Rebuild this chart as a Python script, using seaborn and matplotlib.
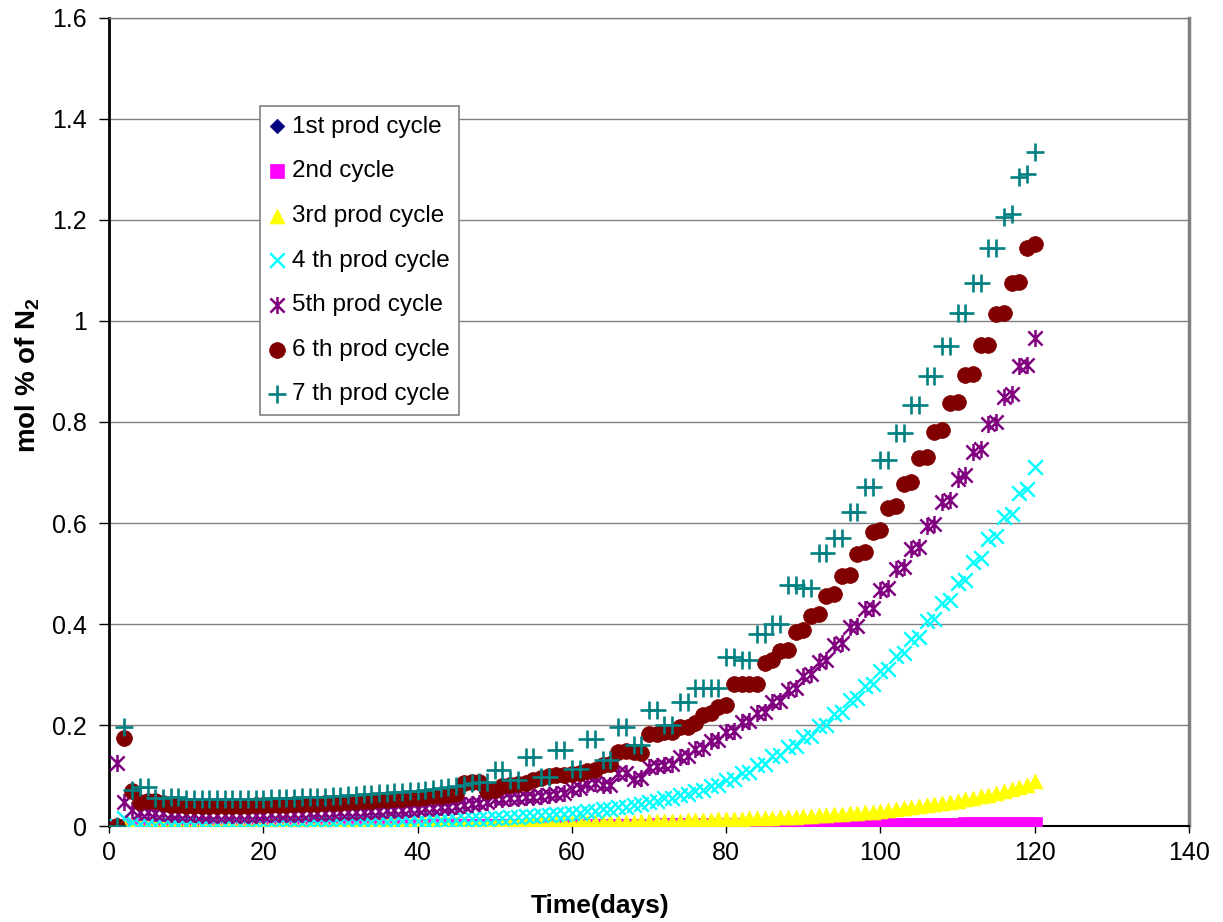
import matplotlib
matplotlib.use("Agg")
import matplotlib.pyplot as plt
from matplotlib.path import Path
import seaborn as sns
import pandas as pd

# N2 content (mol %) per production day, one list per cycle
days = list(range(1, 121))

cycle1 = [
    0.0, 0.0, 0.0, 0.0, 0.0, 0.0, 0.0, 0.0, 0.0, 0.0,
    0.0, 0.0, 0.0, 0.0, 0.0, 0.0, 0.0, 0.0, 0.0, 0.0,
    0.0, 0.0, 0.0, 0.0, 0.0, 0.0, 0.0, 0.0, 0.0, 0.0,
    0.0, 0.0, 0.0, 0.0, 0.0, 0.0, 0.0, 0.0, 0.0, 0.0,
    0.0, 0.0, 0.0, 0.0, 0.0, 0.0, 0.0, 0.0, 0.0, 0.0,
    0.0, 0.0, 0.0, 0.0, 0.0, 0.0, 0.0, 0.0, 0.0, 0.0,
    0.0, 0.0, 0.0, 0.0, 0.0, 0.0, 0.0, 0.0, 0.0, 0.0,
    0.0, 0.0, 0.0, 0.0, 0.0, 0.0, 0.0, 0.0, 0.0, 0.0,
    0.0, 0.0, 0.0, 0.0, 0.0, 0.0, 0.0, 0.0, 0.0, 0.0,
    0.0, 0.0, 0.0, 0.0, 0.0, 0.0, 0.0, 0.0, 0.0, 0.0,
    0.0, 0.0, 0.0, 0.0, 0.0, 0.0, 0.0, 0.0, 0.0, 0.0,
    0.0, 0.0, 0.0, 0.0, 0.0, 0.0, 0.0, 0.0, 0.0, 0.0,
]
cycle2 = [
    0.0, 0.0, 0.0, 0.0, 0.0, 0.0, 0.0, 0.0, 0.0, 0.0,
    0.0, 0.0, 0.0, 0.0, 0.0, 0.0, 0.0, 0.0, 0.0, 0.0,
    0.0, 0.0, 0.0, 0.0, 0.0, 0.0, 0.0, 0.0, 0.0, 0.0,
    0.0, 0.0, 0.0, 0.0, 0.0, 0.0, 0.0, 0.0, 0.0, 0.0,
    0.0, 0.0, 0.0, 0.0, 0.0, 0.0, 0.0, 0.0, 0.0, 0.0,
    0.0005, 0.0005, 0.0005, 0.0005, 0.0005, 0.0005, 0.0005, 0.0005, 0.0005, 0.0005,
    0.001, 0.001, 0.001, 0.001, 0.001, 0.001, 0.001, 0.001, 0.001, 0.001,
    0.0012, 0.0012, 0.0012, 0.0012, 0.0015, 0.0015, 0.0015, 0.0015, 0.0015, 0.0015,
    0.0018, 0.0018, 0.0018, 0.0018, 0.002, 0.002, 0.002, 0.002, 0.002, 0.002,
    0.0022, 0.0022, 0.0022, 0.0022, 0.0024, 0.0024, 0.0024, 0.0024, 0.0025, 0.0025,
    0.0026, 0.0026, 0.0027, 0.0027, 0.0028, 0.0028, 0.0029, 0.0029, 0.003, 0.003,
    0.0031, 0.0031, 0.0032, 0.0032, 0.0033, 0.0033, 0.0034, 0.0034, 0.0035, 0.0035,
]
cycle3 = [
    0.001, 0.001, 0.001, 0.001, 0.001, 0.001, 0.001, 0.001, 0.001, 0.001,
    0.001, 0.001, 0.001, 0.0015, 0.0015, 0.0015, 0.0015, 0.0015, 0.0015, 0.0015,
    0.002, 0.002, 0.002, 0.002, 0.002, 0.002, 0.002, 0.002, 0.002, 0.002,
    0.0025, 0.0025, 0.0025, 0.0025, 0.0025, 0.003, 0.003, 0.003, 0.003, 0.003,
    0.0035, 0.0035, 0.0035, 0.0035, 0.0035, 0.004, 0.004, 0.004, 0.004, 0.004,
    0.0045, 0.0045, 0.005, 0.005, 0.0055, 0.0055, 0.006, 0.006, 0.0065, 0.0065,
    0.007, 0.007, 0.0075, 0.0075, 0.008, 0.008, 0.0085, 0.0085, 0.009, 0.009,
    0.0095, 0.0095, 0.010, 0.010, 0.011, 0.011, 0.012, 0.012, 0.013, 0.013,
    0.014, 0.014, 0.015, 0.015, 0.016, 0.016, 0.017, 0.017, 0.018, 0.019,
    0.020, 0.021, 0.022, 0.023, 0.024, 0.025, 0.026, 0.027, 0.028, 0.030,
    0.032, 0.033, 0.035, 0.037, 0.039, 0.041, 0.043, 0.045, 0.048, 0.050,
    0.053, 0.056, 0.059, 0.062, 0.066, 0.069, 0.073, 0.077, 0.082, 0.089,
]
cycle4 = [
    0.000, 0.015, 0.007, 0.004, 0.004, 0.003, 0.003, 0.003, 0.003, 0.003,
    0.003, 0.003, 0.004, 0.004, 0.004, 0.004, 0.004, 0.004, 0.005, 0.005,
    0.005, 0.005, 0.005, 0.005, 0.006, 0.006, 0.006, 0.006, 0.006, 0.007,
    0.007, 0.007, 0.007, 0.008, 0.008, 0.008, 0.008, 0.009, 0.009, 0.010,
    0.010, 0.011, 0.011, 0.012, 0.012, 0.013, 0.013, 0.014, 0.014, 0.015,
    0.015, 0.017, 0.017, 0.019, 0.019, 0.021, 0.021, 0.023, 0.023, 0.026,
    0.026, 0.029, 0.029, 0.033, 0.033, 0.037, 0.038, 0.042, 0.043, 0.048,
    0.049, 0.055, 0.056, 0.062, 0.063, 0.070, 0.071, 0.080, 0.082, 0.092,
    0.094, 0.105, 0.107, 0.121, 0.123, 0.138, 0.140, 0.156, 0.158, 0.176,
    0.178, 0.198, 0.201, 0.222, 0.225, 0.250, 0.253, 0.277, 0.281, 0.306,
    0.310, 0.337, 0.342, 0.370, 0.375, 0.405, 0.410, 0.441, 0.447, 0.482,
    0.488, 0.523, 0.530, 0.568, 0.575, 0.612, 0.618, 0.660, 0.667, 0.711,
]
cycle5 = [
    0.125, 0.048, 0.032, 0.028, 0.027, 0.025, 0.025, 0.024, 0.024, 0.023,
    0.023, 0.022, 0.022, 0.022, 0.022, 0.022, 0.022, 0.022, 0.022, 0.022,
    0.023, 0.023, 0.023, 0.024, 0.024, 0.025, 0.025, 0.026, 0.026, 0.027,
    0.027, 0.028, 0.028, 0.029, 0.030, 0.031, 0.031, 0.032, 0.033, 0.034,
    0.035, 0.036, 0.037, 0.038, 0.039, 0.041, 0.043, 0.046, 0.048, 0.053,
    0.054, 0.055, 0.056, 0.057, 0.058, 0.060, 0.062, 0.064, 0.065, 0.074,
    0.075, 0.084, 0.085, 0.081, 0.082, 0.104, 0.105, 0.094, 0.095, 0.117,
    0.118, 0.121, 0.122, 0.137, 0.138, 0.153, 0.155, 0.168, 0.170, 0.186,
    0.188, 0.205, 0.207, 0.223, 0.225, 0.246, 0.248, 0.270, 0.273, 0.298,
    0.301, 0.325, 0.329, 0.358, 0.362, 0.394, 0.397, 0.429, 0.432, 0.468,
    0.472, 0.508, 0.512, 0.549, 0.553, 0.594, 0.598, 0.641, 0.646, 0.688,
    0.695, 0.741, 0.746, 0.796, 0.800, 0.850, 0.855, 0.910, 0.913, 0.966,
]
cycle6 = [
    0.0, 0.175, 0.070, 0.048, 0.050, 0.050, 0.045, 0.042, 0.041, 0.040,
    0.040, 0.040, 0.040, 0.040, 0.040, 0.040, 0.040, 0.040, 0.041, 0.041,
    0.041, 0.042, 0.042, 0.043, 0.043, 0.044, 0.044, 0.045, 0.045, 0.046,
    0.047, 0.048, 0.049, 0.050, 0.051, 0.052, 0.053, 0.054, 0.055, 0.056,
    0.058, 0.059, 0.060, 0.062, 0.064, 0.086, 0.088, 0.087, 0.070, 0.072,
    0.080, 0.082, 0.083, 0.085, 0.092, 0.095, 0.100, 0.101, 0.102, 0.103,
    0.104, 0.108, 0.110, 0.120, 0.123, 0.147, 0.148, 0.147, 0.144, 0.182,
    0.183, 0.187, 0.187, 0.197, 0.197, 0.203, 0.220, 0.223, 0.236, 0.240,
    0.281, 0.281, 0.281, 0.282, 0.322, 0.329, 0.347, 0.349, 0.385, 0.388,
    0.416, 0.420, 0.455, 0.459, 0.495, 0.498, 0.539, 0.543, 0.583, 0.586,
    0.630, 0.634, 0.677, 0.682, 0.728, 0.731, 0.781, 0.784, 0.837, 0.840,
    0.893, 0.895, 0.952, 0.953, 1.014, 1.016, 1.075, 1.078, 1.145, 1.152,
]
cycle7 = [
    0.0, 0.197, 0.072, 0.077, 0.077, 0.055, 0.055, 0.058, 0.058, 0.053,
    0.053, 0.053, 0.053, 0.053, 0.053, 0.053, 0.054, 0.054, 0.054, 0.054,
    0.055, 0.055, 0.056, 0.056, 0.057, 0.057, 0.058, 0.058, 0.059, 0.060,
    0.061, 0.062, 0.063, 0.064, 0.065, 0.066, 0.067, 0.068, 0.069, 0.070,
    0.072, 0.073, 0.075, 0.078, 0.080, 0.082, 0.085, 0.087, 0.088, 0.111,
    0.111, 0.091, 0.091, 0.136, 0.136, 0.098, 0.098, 0.150, 0.150, 0.113,
    0.113, 0.173, 0.173, 0.131, 0.131, 0.197, 0.197, 0.160, 0.160, 0.230,
    0.230, 0.200, 0.200, 0.246, 0.246, 0.273, 0.273, 0.273, 0.273, 0.335,
    0.335, 0.329, 0.329, 0.381, 0.381, 0.401, 0.401, 0.477, 0.477, 0.471,
    0.471, 0.540, 0.540, 0.570, 0.570, 0.622, 0.622, 0.671, 0.671, 0.725,
    0.725, 0.778, 0.778, 0.834, 0.834, 0.891, 0.891, 0.950, 0.950, 1.015,
    1.015, 1.075, 1.075, 1.144, 1.144, 1.205, 1.212, 1.285, 1.292, 1.335,
]

labels = ["1st prod cycle", "2nd cycle", "3rd prod cycle", "4 th prod cycle",
          "5th prod cycle", "6 th prod cycle", "7 th prod cycle"]
series = [cycle1, cycle2, cycle3, cycle4, cycle5, cycle6, cycle7]

# excel style asterisk: an x with a vertical bar
star = Path([(-1, -1), (1, 1), (-1, 1), (1, -1), (0, -1.2), (0, 1.2)],
            [Path.MOVETO, Path.LINETO, Path.MOVETO, Path.LINETO, Path.MOVETO, Path.LINETO])

styles = [
    dict(color="#000080", marker="D", s=55, edgecolor="#000080", linewidth=0.5),
    dict(color="#FF00FF", marker="s", s=110, edgecolor="#FF00FF", linewidth=0.5),
    dict(color="#FFFF00", marker="^", s=115, edgecolor="#FFFF00", linewidth=0.5),
    dict(color="#00FFFF", marker="x", s=110, linewidth=1.7),
    dict(color="#800080", marker=star, s=150, edgecolor="#800080", linewidth=1.8),
    dict(color="#800000", marker="o", s=130, edgecolor="#800000", linewidth=0.5),
    dict(color="#008080", marker="+", s=180, linewidth=1.9),
]

sns.set_style("white")
plt.rcParams['font.family'] = ['Liberation Sans', 'DejaVu Sans']
plt.rcParams['mathtext.default'] = 'regular'
plt.rcParams['text.color'] = 'black'
plt.rcParams['axes.labelcolor'] = 'black'
plt.rcParams['xtick.color'] = 'black'
plt.rcParams['ytick.color'] = 'black'

fig = plt.figure(figsize=(12.23, 9.22), dpi=100)
ax = fig.add_axes([0.0891, 0.1041, 0.8831, 0.8764])

for lab, vals, st in zip(labels, series, styles):
    df = pd.DataFrame({"day": days, "n2": vals})
    sns.scatterplot(data=df, x="day", y="n2", ax=ax, label=lab, zorder=3, **st)

ax.set_xlim(0, 140)
ax.set_ylim(0, 1.6)
ax.set_xticks([0, 20, 40, 60, 80, 100, 120, 140])
ax.set_yticks([0, 0.2, 0.4, 0.6, 0.8, 1.0, 1.2, 1.4, 1.6])
ax.set_yticklabels(["0", "0.2", "0.4", "0.6", "0.8", "1", "1.2", "1.4", "1.6"])
ax.yaxis.grid(True, color="#808080", linewidth=1)
ax.xaxis.grid(False)
ax.set_axisbelow(True)

ax.tick_params(axis="both", labelsize=18, colors="black")
ax.tick_params(axis="y", direction="out", length=7, width=1, pad=9, left=True)
ax.tick_params(axis="x", direction="out", length=5, width=1, pad=6, bottom=True)

ax.spines["left"].set_color("black")
ax.spines["left"].set_linewidth(2)
ax.spines["bottom"].set_color("black")
ax.spines["bottom"].set_linewidth(1.5)
ax.spines["top"].set_color("#808080")
ax.spines["top"].set_linewidth(1)
ax.spines["right"].set_color("#808080")
ax.spines["right"].set_linewidth(2.5)

ax.set_xlabel("Time(days)", fontsize=19, fontweight="bold")
ax.set_ylabel("mol % of N$_2$", fontsize=20, fontweight="bold")
ax.xaxis.set_label_coords(0.4546, -0.099)
ax.yaxis.set_label_coords(-0.075, 0.558)
ax.xaxis.label.set_va("center")
ax.yaxis.label.set_va("center")

leg = ax.legend(loc="upper left", bbox_to_anchor=(0.1398, 0.891), fontsize=17.5,
                frameon=True, fancybox=False, edgecolor="#808080", framealpha=1,
                borderaxespad=0, labelspacing=0.93, handlelength=0.6,
                handletextpad=0.3, borderpad=0.4, scatterpoints=1)
leg.get_frame().set_linewidth(1.2)

plt.savefig("out.png", dpi=100)
